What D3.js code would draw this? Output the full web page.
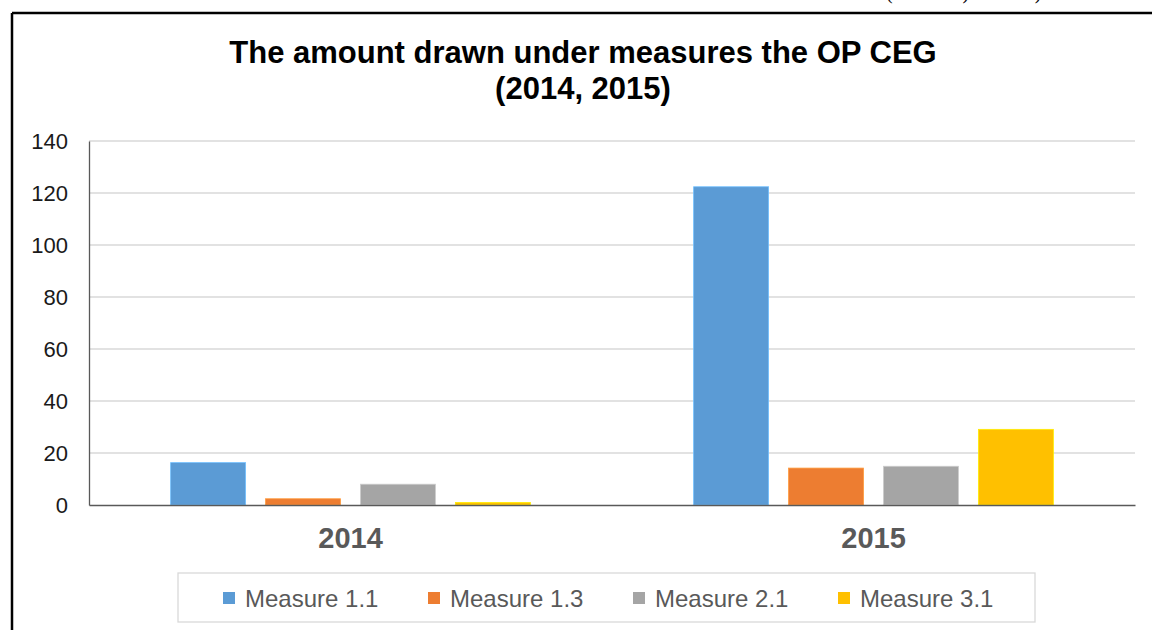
<!DOCTYPE html>
<html>
<head>
<meta charset="utf-8">
<script src="https://cdn.jsdelivr.net/npm/d3@7"></script>
<style>
  body { margin: 0; background: #fff; }
  svg { display: block; }
</style>
</head>
<body>
<div id="my_dataviz"></div>
<script>
var width = 1152;
var height = 630;

// data
var years = ['2014', '2015'];
var measures = ['Measure 1.1', 'Measure 1.3', 'Measure 2.1', 'Measure 3.1'];
var values_2014 = [16.3, 2.4, 8.0, 1.0];
var values_2015 = [122.4, 14.2, 14.9, 29.1];
var y_ticks = [0, 20, 40, 60, 80, 100, 120, 140];
var colours = ['#5B9BD5', '#ED7D31', '#A5A5A5', '#FFC000'];

var svg = d3.select("#my_dataviz").append('svg').attr('height', height).attr('width', width);

var rows = [];
for (var i = 0; i < years.length; i++) {
    var vals = i == 0 ? values_2014 : values_2015;
    for (var j = 0; j < measures.length; j++) {
        rows.push({ year: years[i], measure: measures[j], value: vals[j] });
    }
}

// caption of the page above, clipped by the window (only bracket tails show)
svg.append('text').attr('x', 886).attr('y', -1)
    .attr('font-family', 'Liberation Serif, serif').attr('font-size', 20)
    .attr('fill', '#000')
    .text('(OP CEG) in 2015)');

// frame
svg.append('line').attr('x1', 12).attr('y1', 13).attr('x2', width).attr('y2', 13)
    .attr('stroke', '#000').attr('stroke-width', 2.5);
svg.append('line').attr('x1', 12).attr('y1', 13).attr('x2', 12).attr('y2', height)
    .attr('stroke', '#000').attr('stroke-width', 2.5);

// title
var title = svg.append('text').attr('text-anchor', 'middle')
    .attr('font-family', 'Liberation Sans, Arial, sans-serif')
    .attr('font-weight', 'bold').attr('font-size', 31).attr('fill', '#000');
title.append('tspan').attr('x', 583).attr('y', 63).text('The amount drawn under measures the OP CEG');
title.append('tspan').attr('x', 583).attr('y', 99).text('(2014, 2015)');

var y = d3.scaleLinear().domain([0, 140]).range([505, 141]);
var x0 = d3.scaleBand().domain(years).range([89, 1135]);
var x1 = d3.scaleBand().domain(measures).range([0, x0.bandwidth()])
    .paddingInner(0.21).paddingOuter(0.86);
var colour_scale = d3.scaleOrdinal().domain(measures).range(colours);

// gridlines
var grid = svg.append('g').attr('class', 'grid_group');
grid.selectAll('line').data(y_ticks.slice(1)).enter().append('line')
    .attr('x1', 89).attr('x2', 1135)
    .attr('y1', function(d){ return y(d); })
    .attr('y2', function(d){ return y(d); })
    .attr('stroke', '#d9d9d9').attr('stroke-width', 1.3);

// y axis
var y_axis = svg.append('g').attr('transform', 'translate(89,0)')
    .call(d3.axisLeft(y).tickValues(y_ticks).tickSize(0).tickPadding(21));
y_axis.select('.domain').attr('stroke', '#595959').attr('stroke-width', 1.3);
y_axis.selectAll('text')
    .attr('font-family', 'Liberation Sans, Arial, sans-serif')
    .attr('font-size', 22).attr('fill', '#1a1a1a');

// bars
var bar_group = svg.append('g').attr('class', 'bar_group');
bar_group.selectAll('rect').data(rows).enter().append('rect')
    .attr('x', function(d){ return x0(d.year) + x1(d.measure); })
    .attr('y', function(d){ return y(d.value); })
    .attr('width', x1.bandwidth())
    .attr('height', function(d){ return y(0) - y(d.value); })
    .attr('fill', function(d){ return colour_scale(d.measure); })
    .attr('stroke', function(d){ return d3.color(colour_scale(d.measure)).brighter(0.6); })
    .attr('stroke-width', 0.8);

// x axis (baseline + year labels)
var x_axis = svg.append('g').attr('transform', 'translate(0,' + y(0) + ')')
    .call(d3.axisBottom(x0).tickSize(0).tickPadding(22));
x_axis.select('.domain').attr('stroke', '#595959').attr('stroke-width', 1.3);
x_axis.selectAll('text')
    .attr('font-family', 'Liberation Sans, Arial, sans-serif')
    .attr('font-weight', 'bold').attr('font-size', 29).attr('fill', '#595959');

// legend
var legend = svg.append('g').attr('class', 'legend_group');
legend.append('rect').attr('x', 178).attr('y', 573).attr('width', 857).attr('height', 49)
    .attr('fill', '#fff').attr('stroke', '#d9d9d9').attr('stroke-width', 1.3);
var legend_x = d3.scalePoint().domain(measures).range([223, 838]);
var items = legend.selectAll('.legend_item').data(measures).enter().append('g')
    .attr('class', 'legend_item')
    .attr('transform', function(d){ return 'translate(' + legend_x(d) + ',592)'; });
items.append('rect').attr('width', 12).attr('height', 12)
    .attr('fill', function(d){ return colour_scale(d); });
items.append('text').attr('x', 22).attr('y', 14.5)
    .attr('font-family', 'Liberation Sans, Arial, sans-serif')
    .attr('font-size', 24).attr('fill', '#595959')
    .text(function(d){ return d; });
</script>
</body>
</html>
